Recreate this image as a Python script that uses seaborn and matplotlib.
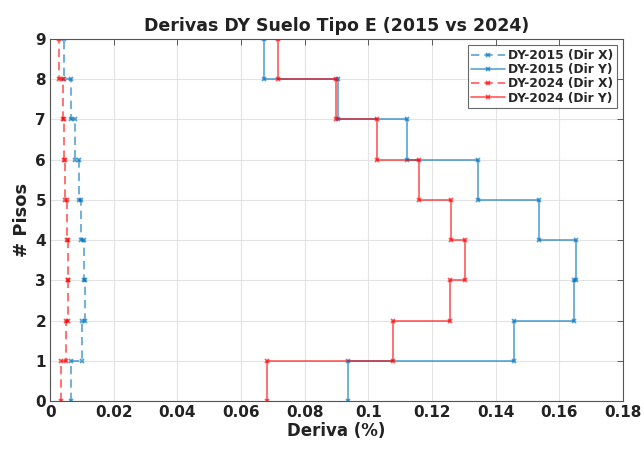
import numpy as np
import pandas as pd
import matplotlib
matplotlib.use("Agg")
import matplotlib.pyplot as plt
import seaborn as sns

# drift per story (story 1..9)
pisos = [1, 2, 3, 4, 5, 6, 7, 8, 9]
dy2015_x = [0.0064, 0.0101, 0.0109, 0.0106, 0.0098, 0.0091, 0.0078, 0.0064, 0.0044]
dy2015_y = [0.0936, 0.1459, 0.1647, 0.1654, 0.1537, 0.1346, 0.1122, 0.0906, 0.0671]
dy2024_x = [0.0033, 0.0050, 0.0055, 0.0057, 0.0052, 0.0048, 0.0042, 0.0039, 0.0026]
dy2024_y = [0.0682, 0.1077, 0.1256, 0.1305, 0.1260, 0.1158, 0.1027, 0.0898, 0.0717]

azul = (0.0, 0.447, 0.741)
rojo = (1.0, 0.0, 0.0)


def escalera(deriva):
    # each story drawn from floor i-1 to floor i at its drift
    xs = np.repeat(deriva, 2)
    ys = np.ravel([[p - 1, p] for p in pisos])
    return pd.DataFrame({"Deriva": xs, "Piso": ys})


sns.set_style("white")
plt.rcParams["font.family"] = ["DejaVu Sans"]
plt.rcParams["font.weight"] = "bold"

fig = plt.figure(figsize=(6.44, 4.49), dpi=100)
ax = fig.add_axes([0.078, 0.107, 0.889, 0.806])

series = [
    (dy2015_x, azul, (0, (5, 3)), "DY-2015 (Dir X)"),
    (dy2015_y, azul, "-", "DY-2015 (Dir Y)"),
    (dy2024_x, rojo, (0, (5, 3)), "DY-2024 (Dir X)"),
    (dy2024_y, rojo, "-", "DY-2024 (Dir Y)"),
]
for deriva, color, ls, lab in series:
    df = escalera(deriva)
    n = len(ax.lines)
    sns.lineplot(data=df, x="Deriva", y="Piso", sort=False, estimator=None,
                 color=color, linewidth=1.2, alpha=0.65, label=lab, ax=ax)
    ln = ax.lines[n]
    ln.set_linestyle(ls)
    ln.set_marker("x")
    ln.set_markersize(3.5)
    ln.set_markeredgewidth(1.3)
    ln.set_markeredgecolor(color)
    ln.set_markerfacecolor(color)

ax.set_xlim(0, 0.18)
ax.set_ylim(0, 9)
xt = np.arange(0, 0.181, 0.02)
ax.set_xticks(xt)
ax.set_xticklabels(["%g" % round(v, 2) for v in xt])
ax.set_yticks(range(0, 10))
ax.tick_params(direction="in", top=True, right=True, length=4, width=0.6,
               labelsize=11, color="#444444", pad=3)
for lab in ax.get_xticklabels() + ax.get_yticklabels():
    lab.set_fontweight("bold")
    lab.set_color("#222222")
ax.grid(True, color="#e3e3e3", linewidth=0.8)
for s in ax.spines.values():
    s.set_color("#555555")
    s.set_linewidth(0.8)

ax.set_xlabel("Deriva (%)", fontsize=12, fontweight="bold", labelpad=1, color="#222222")
ax.set_ylabel("# Pisos", fontsize=13, fontweight="bold", labelpad=3, color="#222222")
ax.set_title("Derivas DY Suelo Tipo E (2015 vs 2024)", fontsize=12.5,
             fontweight="bold", pad=6, color="#222222")

# rebuild legend so handles carry the markers and dashes
handles = ax.lines[:4]
leg = ax.legend(handles, [s[3] for s in series], loc="upper right", fontsize=8.8,
                frameon=True, fancybox=False, handlelength=2.8, borderpad=0.3,
                labelspacing=0.1, handletextpad=0.2, borderaxespad=0.5)
leg.get_frame().set_edgecolor("#444444")
leg.get_frame().set_linewidth(0.8)
for t in leg.get_texts():
    t.set_fontweight("bold")

fig.savefig("out.png", dpi=100)
